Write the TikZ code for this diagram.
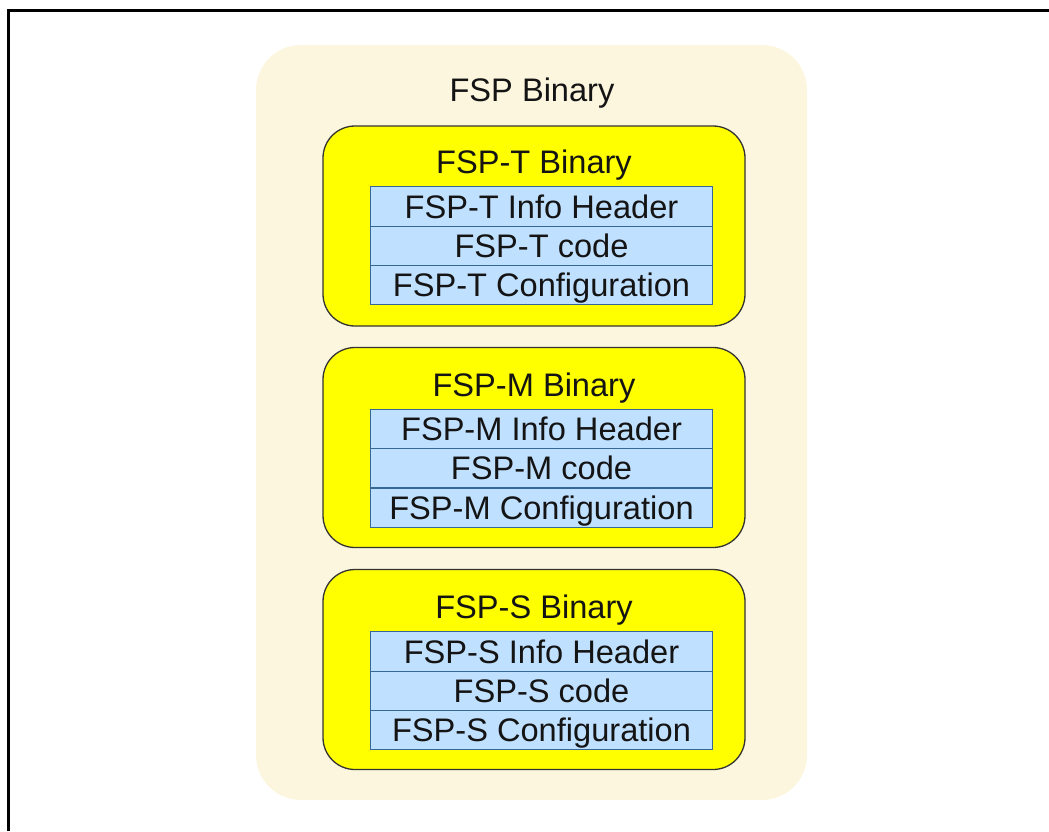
\documentclass[tikz,border=0pt]{standalone}
\usepackage{fontspec}
\setmainfont{Liberation Sans}

\definecolor{cream}{RGB}{253,246,222}
\definecolor{rowblue}{RGB}{192,224,255}
\definecolor{rowedge}{RGB}{54,104,150}
\definecolor{inktext}{RGB}{20,20,20}
\definecolor{binyellow}{RGB}{255,255,0}

\tikzset{
  binbox/.style={rectangle, rounded corners=45pt, fill=cream, minimum width=551pt, minimum height=755pt},
  partbox/.style={rectangle, rounded corners=32pt, draw=black!80, line width=1.3pt, fill=binyellow, minimum width=422pt, minimum height=200pt},
  rowbox/.style={rectangle, draw=rowedge, line width=1.2pt, fill=rowblue, minimum width=342pt, minimum height=39.3pt, inner sep=0pt, text height=23pt, text depth=0pt},
  title/.style={inner sep=0pt, text height=23pt, text depth=0pt}
}

\begin{document}
\begin{tikzpicture}[x=1pt, y=-1pt, font=\fontsize{32.6}{38}\selectfont, text=inktext]
        \useasboundingbox (0,0) rectangle (1049,831);

        % Frame
        \draw[line width=3pt] (8.5,831) -- (8.5,10) -- (1049,10);

        % Outer binary
        \node (fsp) at (531.5,422.5) [binbox] {};
        \node (fsptitle) at (532,90) [title] {FSP Binary};

        % FSP-T
        \node (tbin) at (534,226) [partbox] {};
        \node (ttitle) at (534,162) [title] {FSP-T Binary};
        \node (thead) at (541.5,206.5) [rowbox] {FSP-T Info Header};
        \node (tcode) at (541.5,245.8) [rowbox] {FSP-T code};
        \node (tconf) at (541.5,285.1) [rowbox] {FSP-T Configuration};

        % FSP-M
        \node (mbin) at (534,447.5) [partbox] {};
        \node (mtitle) at (534,384.5) [title] {FSP-M Binary};
        \node (mhead) at (541.5,429) [rowbox] {FSP-M Info Header};
        \node (mcode) at (541.5,468.3) [rowbox] {FSP-M code};
        \node (mconf) at (541.5,507.6) [rowbox] {FSP-M Configuration};

        % FSP-S
        \node (sbin) at (534,669.5) [partbox] {};
        \node (stitle) at (534,606.5) [title] {FSP-S Binary};
        \node (shead) at (541.5,651.5) [rowbox] {FSP-S Info Header};
        \node (scode) at (541.5,690.8) [rowbox] {FSP-S code};
        \node (sconf) at (541.5,730.1) [rowbox] {FSP-S Configuration};
\end{tikzpicture}
\end{document}
